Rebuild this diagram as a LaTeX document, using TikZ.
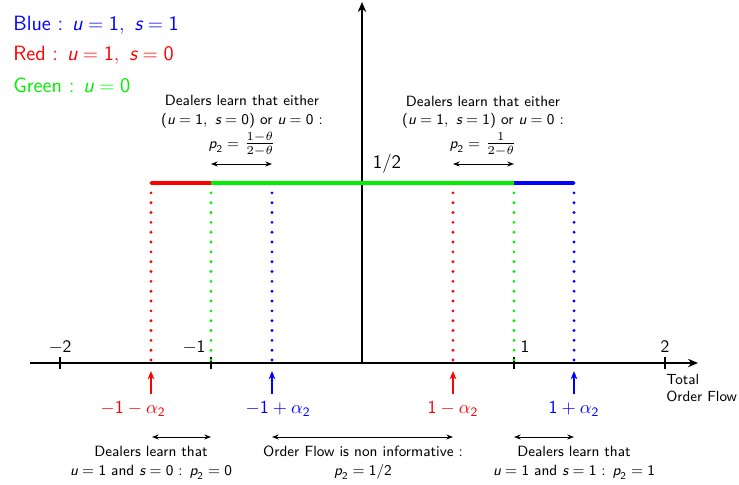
\documentclass[tikz,border=0pt]{standalone}
\usepackage{amsmath}
\usepackage{graphicx}
\usepackage{fontspec}
\usetikzlibrary{arrows.meta}
\definecolor{cblue}{RGB}{0,0,255}
\definecolor{cred}{RGB}{255,0,0}
\definecolor{cgreen}{RGB}{0,240,0}
\newcommand\mv[1]{\textsf{\itshape #1}}
\newcommand\nm[1]{\textsf{#1}}
\newcommand\bfrac[2]{\raisebox{0.3pt}{\scalebox{1.2}{$\frac{#1}{#2}$}}}
\tikzset{
  axis/.style={line width=1.5pt},
  tickmark/.style={line width=1.2pt},
  level/.style={line width=2.4pt},
  dotline/.style={line width=1.9pt, line cap=round, dash pattern=on 0pt off 5.9pt},
  uparrow/.style={line width=1.2pt, -{Stealth[length=5pt,width=4pt]}},
  span/.style={line width=0.6pt, {Stealth[length=4pt,width=3pt]}-{Stealth[length=4pt,width=3pt]}},
  legend/.style={font=\sffamily\fontsize{12.4}{14}\selectfont, anchor=west, inner sep=0pt},
  ticklab/.style={font=\sffamily\fontsize{10.5}{12}\selectfont, inner sep=0pt},
  biglab/.style={font=\fontsize{11}{13}\selectfont, inner sep=0pt},
  small/.style={font=\sffamily\fontsize{8.9}{11.2}\selectfont, align=center, inner sep=0pt},
}
\begin{document}
\begin{tikzpicture}[x=0.6pt,y=-0.6pt]
\useasboundingbox (0,0) rectangle (739,484);
% axes
\coordinate (xs) at (30,363);
\coordinate (xe) at (698,363);
\coordinate (ys) at (362,363);
\coordinate (ye) at (362,2);
\draw[axis,-{Stealth[length=6pt,width=5pt]}] (xs) -- (xe);
\draw[axis,-{Stealth[length=6pt,width=5pt]}] (ys) -- (ye);
% ticks
\foreach \n/\x in {m2/60,m1/211,p1/514,p2/665}{
  \coordinate (t\n a) at (\x,357);
  \coordinate (t\n b) at (\x,369);
  \draw[tickmark] (t\n a) -- (t\n b);
}
\node[ticklab] (lm2) at (60,347) {$-$2};
\node[ticklab] (lm1) at (194,347) {$-$1};
\node[ticklab] (lp1) at (525,347) {1};
\node[ticklab] (lp2) at (665,347) {2};
\node[ticklab, font=\sffamily\fontsize{11.5}{12}\selectfont] (half) at (387,164) {1/2};
% level line
\foreach \n/\x in {a/151,b/211,c/272,d/453,e/514,f/574}{
  \coordinate (h\n) at (\x,183);
  \coordinate (b\n) at (\x,363);
}
\draw[dotline,cred] (ha) -- (ba);
\draw[dotline,cgreen] (hb) -- (bb);
\draw[dotline,cblue] (hc) -- (bc);
\draw[dotline,cred] (hd) -- (bd);
\draw[dotline,cgreen] (he) -- (be);
\draw[dotline,cblue] (hf) -- (bf);
\draw[level,cred] (ha) -- (hb);
\draw[level,cgreen] (hb) -- (he);
\draw[level,cblue] (he) -- (hf);
% up arrows
\foreach \n/\x in {a/151,c/272,d/453,f/574}{
  \coordinate (ua\n) at (\x,394);
  \coordinate (ub\n) at (\x,371);
}
\draw[uparrow,cred] (uaa) -- (uba);
\draw[uparrow,cblue] (uac) -- (ubc);
\draw[uparrow,cred] (uad) -- (ubd);
\draw[uparrow,cblue] (uaf) -- (ubf);
\node[biglab,text=cred] (la) at (133,409) {$-\nm{1}-\alpha_{\nm{2}}$};
\node[biglab,text=cblue] (lc) at (278,409) {$-\nm{1}+\alpha_{\nm{2}}$};
\node[biglab,text=cred] (ld) at (453,409) {$\nm{1}-\alpha_{\nm{2}}$};
\node[biglab,text=cblue] (lf) at (574,409) {$\nm{1}+\alpha_{\nm{2}}$};
% total order flow
\node[small, align=left, anchor=north west, font=\sffamily\fontsize{8.8}{10.2}\selectfont] (tof) at (666,374) {Total\\Order Flow};
% legend
\node[legend,text=cblue] (lgb) at (13,25) {Blue : $\mv{u}=\nm{1},\ \mv{s}=\nm{1}$};
\node[legend,text=cred] (lgr) at (13,55) {Red : $\mv{u}=\nm{1},\ \mv{s}=\nm{0}$};
\node[legend,text=cgreen] (lgg) at (13,85) {Green : $\mv{u}=\nm{0}$};
% top spans
\coordinate (sl1) at (211,164); \coordinate (sl2) at (272,164);
\coordinate (sr1) at (453,164); \coordinate (sr2) at (514,164);
\draw[span] (sl1) -- (sl2);
\draw[span] (sr1) -- (sr2);
\node[small, anchor=south] (tl) at (242,156) {Dealers learn that either\\($\mv{u}=\nm{1},\ \mv{s}=\nm{0}$) or $\mv{u}=\nm{0}$ :\\[1.5pt]$\mv{p}_{\nm{2}}=$ \bfrac{1-\theta}{2-\theta}};
\node[small, anchor=south] (tr) at (483,156) {Dealers learn that either\\($\mv{u}=\nm{1},\ \mv{s}=\nm{1}$) or $\mv{u}=\nm{0}$ :\\[1.5pt]$\mv{p}_{\nm{2}}=$ \bfrac{1}{2-\theta}};
% bottom spans
\coordinate (bl1) at (152,437); \coordinate (bl2) at (211,437);
\coordinate (bm1) at (272,437); \coordinate (bm2) at (453,437);
\coordinate (br1) at (514,437); \coordinate (br2) at (574,437);
\draw[span] (bl1) -- (bl2);
\draw[span] (bm1) -- (bm2);
\draw[span] (br1) -- (br2);
\node[small, anchor=north] (dl) at (151,446) {Dealers learn that\\$\mv{u}=\nm{1}$ and $\mv{s}=\nm{0}$ : $\mv{p}_{\nm{2}}=\nm{0}$};
\node[small, anchor=north] (dm) at (363,446) {Order Flow is non informative :\\$\mv{p}_{\nm{2}}=\nm{1/2}$};
\node[small, anchor=north] (dr) at (574,446) {Dealers learn that\\$\mv{u}=\nm{1}$ and $\mv{s}=\nm{1}$ : $\mv{p}_{\nm{2}}=\nm{1}$};
\end{tikzpicture}
\end{document}
